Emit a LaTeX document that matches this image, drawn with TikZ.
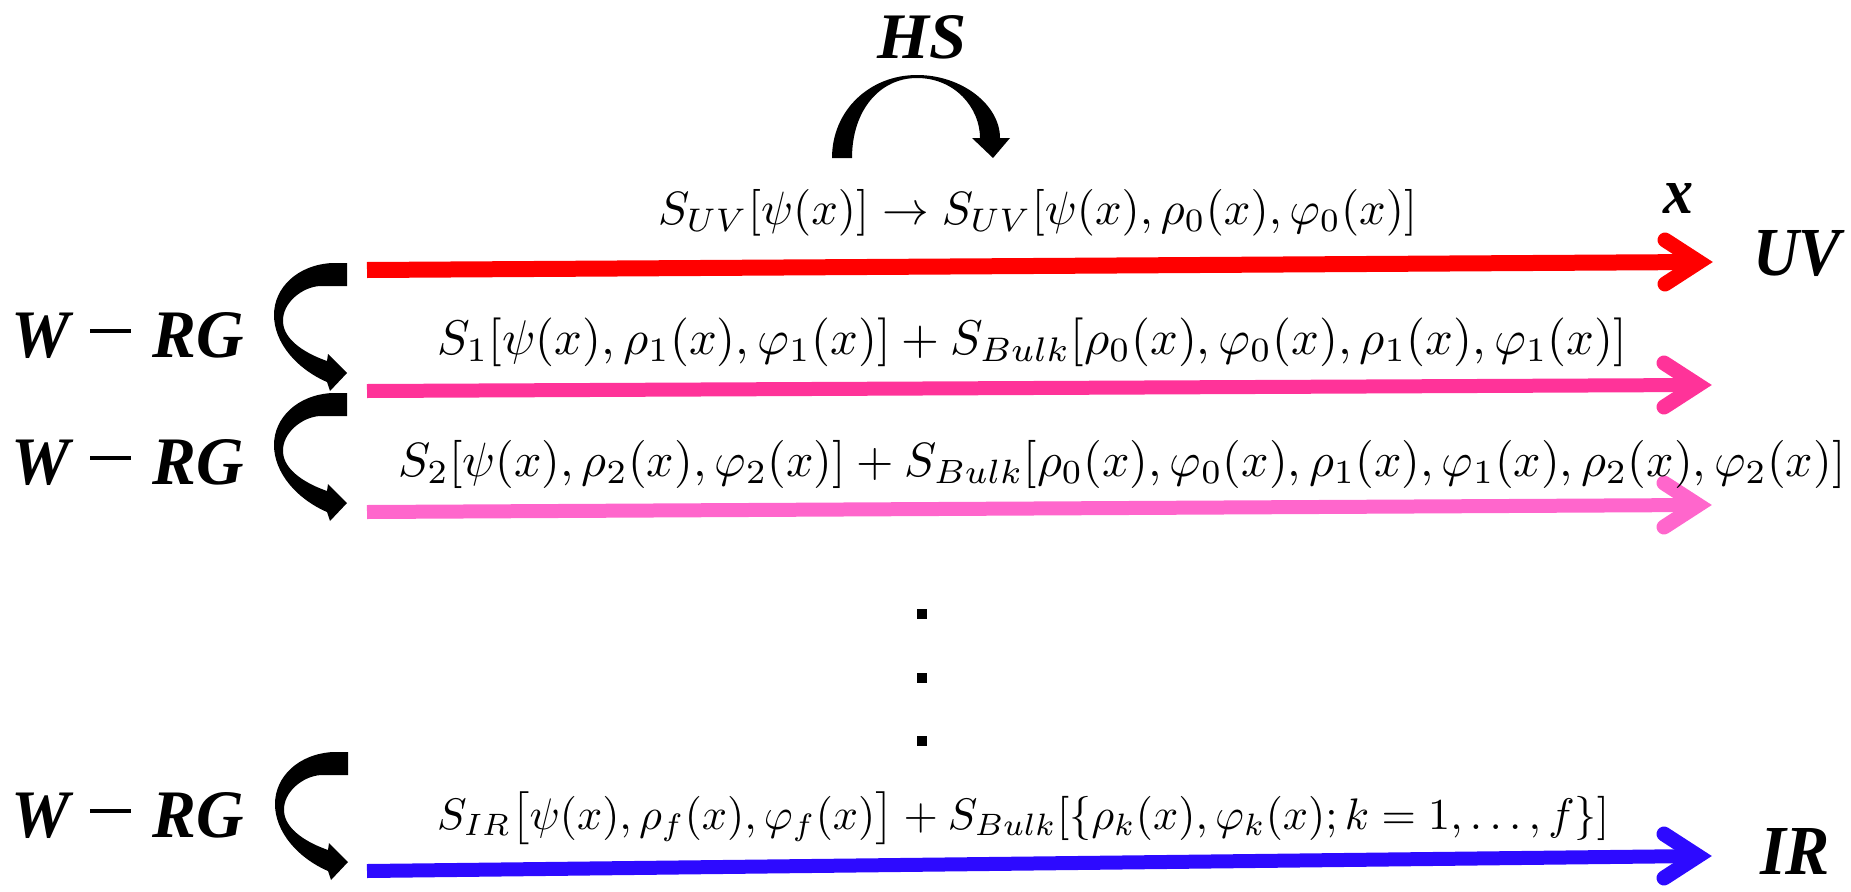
\documentclass[tikz,border=0pt]{standalone}
\usepackage{amsmath,bm}
\usepackage{graphicx}
\usepackage{fontspec}
\newfontfamily\lblfont{Liberation Serif}
\definecolor{uvred}{RGB}{255,0,0}
\definecolor{pinkA}{RGB}{255,51,153}
\definecolor{pinkB}{RGB}{255,102,204}
\definecolor{irblue}{RGB}{45,10,255}
\newcommand{\bl}[1]{{\lblfont\bfseries\itshape #1}}
\newcommand{\wrgtext}{\bl{W\hspace{0.3em}\rule[0.37em]{0.62em}{0.06em}\hspace{0.33em}RG}}
\begin{document}
\begin{tikzpicture}[x=1pt,y=-1pt,
  lbl/.style={inner sep=0pt, outer sep=0pt},
  formula/.style={inner sep=0pt, outer sep=0pt, anchor=base west},
  shaft/.style={line width=#1},
  shaft/.default=14pt,
  barb/.style={line width=15pt, line cap=round, line join=miter},
  curly/.pic={
    \fill[black] (0,0) -- (-15,0) .. controls (-50,2) and (-73,25) .. (-73,52)
      .. controls (-73,80) and (-50,106) .. (-20,119) -- (-17,128) -- (0,110)
      -- (-19,91) -- (-20,98) .. controls (-40,91) and (-63,78) .. (-64,59)
      .. controls (-65,40) and (-45,24) .. (-27,23) -- (0,23) -- cycle;
  },
  sq/.style={fill=black, minimum size=9.5pt, inner sep=0pt, outer sep=0pt}
]
\useasboundingbox (0,0) rectangle (1851,891);

% HS curved arrow
\fill[black] (832,158) .. controls (832,110) and (870,75) .. (917,75)
  .. controls (962,75) and (1000,105) .. (1000,138) -- (1010,138) -- (993,158)
  -- (972,138) -- (980,138) .. controls (980,108) and (955,78) .. (917,78)
  .. controls (880,78) and (852,110) .. (852,158) -- cycle;
\node[lbl] (hs) at (922,37) {\resizebox{89pt}{43pt}{\bl{HS}}};

% W-RG curly arrows
\pic at (347,263) {curly};
\pic at (347,393) {curly};
\pic at (348,752) {curly};

\node[lbl] (wrg1) at (128,336) {\resizebox{232pt}{45pt}{\wrgtext}};
\node[lbl] (wrg2) at (128,463) {\resizebox{232pt}{45pt}{\wrgtext}};
\node[lbl] (wrg3) at (128,816) {\resizebox{232pt}{45pt}{\wrgtext}};

% arrows
\coordinate (r0) at (367,270); \coordinate (r1) at (1699,262);
\coordinate (a0) at (367,391); \coordinate (a1) at (1698,385);
\coordinate (b0) at (367,512); \coordinate (b1) at (1698,505);
\coordinate (c0) at (367,871); \coordinate (c1) at (1698,856);

\draw[shaft=16pt, uvred] (r0) -- (r1);
\draw[barb, uvred] (r1) ++(-34,-22) -- (r1) -- ++(-34,22);
\draw[shaft, pinkA] (a0) -- (a1);
\draw[barb, pinkA] (a1) ++(-34,-22) -- (a1) -- ++(-34,22);
\draw[shaft, pinkB] (b0) -- (b1);
\draw[barb, pinkB] (b1) ++(-34,-22) -- (b1) -- ++(-34,22);
\draw[shaft, irblue] (c0) -- (c1);
\draw[barb, irblue] (c1) ++(-34,-22) -- (c1) -- ++(-34,22);

\node[lbl] (xl) at (1678,198) {\resizebox{30pt}{30pt}{\bl{x}}};
\node[lbl] (uv) at (1797,254) {\resizebox{88pt}{45pt}{\bl{UV}}};
\node[lbl] (ir) at (1795,851) {\resizebox{70pt}{46pt}{\bl{IR}}};

% formulas
\node[formula] (f0) at (658,224) {\resizebox{759pt}{!}{$S_{UV}[\psi(x)]\rightarrow S_{UV}[\psi(x),\rho_0(x),\varphi_0(x)]$}};
\node[formula] (f1) at (437,354) {\resizebox{1190pt}{!}{$S_1[\psi(x),\rho_1(x),\varphi_1(x)]+S_{Bulk}[\rho_0(x),\varphi_0(x),\rho_1(x),\varphi_1(x)]$}};
\node[formula] (f2) at (398,476) {\resizebox{1447pt}{!}{$S_2[\psi(x),\rho_2(x),\varphi_2(x)]+S_{Bulk}[\rho_0(x),\varphi_0(x),\rho_1(x),\varphi_1(x),\rho_2(x),\varphi_2(x)]$}};
\node[formula] (f3) at (437,829) {\resizebox{1172pt}{!}{$S_{IR}\bigl[\psi(x),\rho_f(x),\varphi_f(x)\bigr]+S_{Bulk}[\{\rho_k(x),\varphi_k(x);k=1,\dots,f\}]$}};

% vertical dots
\node[sq] (d1) at (922,614) {};
\node[sq] (d2) at (922,678) {};
\node[sq] (d3) at (922,741) {};
\end{tikzpicture}
\end{document}
